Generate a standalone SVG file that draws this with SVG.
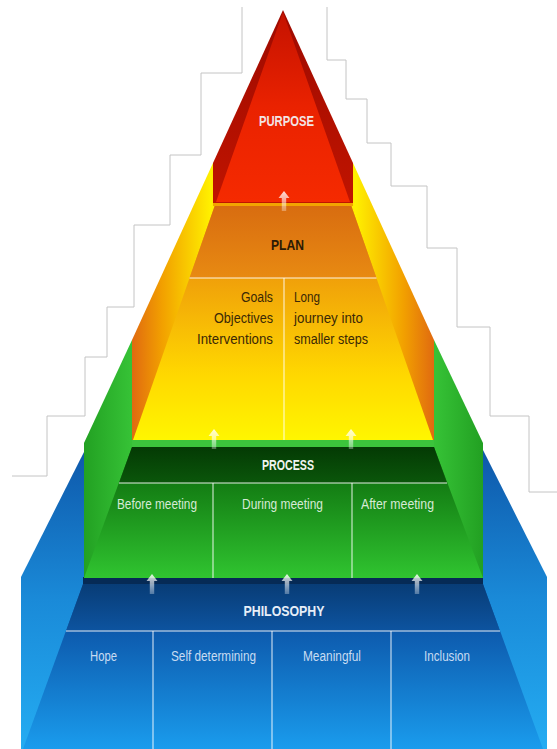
<svg xmlns="http://www.w3.org/2000/svg" width="557" height="749" viewBox="0 0 557 749">
<defs>
<style>
.stair{fill:none;stroke:#c4c4c4;stroke-width:1}
.div{stroke:#ffffff;stroke-opacity:0.6;stroke-width:1.5;fill:none}
.t{font-family:"Liberation Sans",Arial,sans-serif}
.h{font-weight:bold;font-size:15px;text-anchor:middle}
.i{font-size:14px}
.arrow{fill:url(#gArrow)}
</style>
<linearGradient id="gArrow" x1="0" y1="0" x2="0" y2="1">
<stop offset="0" stop-color="#ffffff" stop-opacity="0.85"/>
<stop offset="1" stop-color="#ffffff" stop-opacity="0.3"/>
</linearGradient>
<path id="arr" d="M0,0 L5.5,7 L2.2,7 L2.2,20 L-2.2,20 L-2.2,7 L-5.5,7 Z"/>
<linearGradient id="gRedSide" x1="0" y1="0" x2="0" y2="1">
<stop offset="0" stop-color="#9e0a00"/><stop offset="1" stop-color="#c01400"/>
</linearGradient>
<linearGradient id="gRedFront" x1="0" y1="0" x2="0" y2="1">
<stop offset="0" stop-color="#c41200"/><stop offset="0.5" stop-color="#ea2200"/><stop offset="1" stop-color="#f52a00"/>
</linearGradient>
<linearGradient id="gOrSide" x1="132" y1="0" x2="434" y2="0" gradientUnits="userSpaceOnUse">
<stop offset="0" stop-color="#e06a10"/><stop offset="0.1" stop-color="#f2a000"/><stop offset="0.26" stop-color="#fff000"/><stop offset="0.5" stop-color="#ffb000"/><stop offset="0.74" stop-color="#fff000"/><stop offset="0.9" stop-color="#f2a000"/><stop offset="1" stop-color="#e06a10"/>
</linearGradient>
<linearGradient id="gOrBand" x1="0" y1="0" x2="0" y2="1">
<stop offset="0" stop-color="#d86c10"/><stop offset="1" stop-color="#e88a12"/>
</linearGradient>
<linearGradient id="gOrFront" x1="0" y1="278" x2="0" y2="440" gradientUnits="userSpaceOnUse">
<stop offset="0" stop-color="#f0a00a"/><stop offset="0.6" stop-color="#ffd800"/><stop offset="1" stop-color="#fff600"/>
</linearGradient>
<linearGradient id="gGrSide" x1="83" y1="0" x2="483" y2="0" gradientUnits="userSpaceOnUse">
<stop offset="0" stop-color="#22a022"/><stop offset="0.12" stop-color="#36c236"/><stop offset="0.88" stop-color="#36c236"/><stop offset="1" stop-color="#22a022"/>
</linearGradient>
<linearGradient id="gGrBand" x1="0" y1="0" x2="0" y2="1">
<stop offset="0" stop-color="#043a04"/><stop offset="1" stop-color="#0a560a"/>
</linearGradient>
<linearGradient id="gGrFront" x1="0" y1="483" x2="0" y2="578" gradientUnits="userSpaceOnUse">
<stop offset="0" stop-color="#137c13"/><stop offset="1" stop-color="#30c430"/>
</linearGradient>
<linearGradient id="gBlSide" x1="0" y1="450" x2="0" y2="749" gradientUnits="userSpaceOnUse">
<stop offset="0" stop-color="#0e58aa"/><stop offset="0.5" stop-color="#1a8ad8"/><stop offset="1" stop-color="#24acf2"/>
</linearGradient>
<linearGradient id="gBlBand" x1="0" y1="0" x2="0" y2="1">
<stop offset="0" stop-color="#083c76"/><stop offset="1" stop-color="#0d54a0"/>
</linearGradient>
<linearGradient id="gBlFront" x1="0" y1="631" x2="0" y2="749" gradientUnits="userSpaceOnUse">
<stop offset="0" stop-color="#0d5aad"/><stop offset="1" stop-color="#1a9ced"/>
</linearGradient>
</defs>
<rect width="557" height="749" fill="#ffffff"/>
<g id="background-steps">
<polyline class="stair" points="242,7 242,73 201,73 201,155 170,155 170,225 134,225 134,307 107,307 107,357 85,357 85,416 47,416 47,476 12,476"/>
<polyline class="stair" points="327,7 327,60 346,60 346,99 367,99 367,143 391,143 391,186 427,186 427,248 457,248 457,327 490,327 490,416 529,416 529,492 557,492"/>
</g>
<g id="tier-philosophy">
<polygon points="85,450 21,577 21,749 547,749 547,577 483,450" fill="url(#gBlSide)"/>
<polygon points="83,584 483,584 543,749 23,749" fill="url(#gBlFront)"/>
<rect x="83" y="577" width="400" height="7" fill="#062a55"/>
<polygon points="83,584 483,584 500,631 66,631" fill="url(#gBlBand)"/>
<line class="div" x1="66" y1="631" x2="500" y2="631"/>
<line class="div" x1="153" y1="631" x2="153" y2="749"/>
<line class="div" x1="272" y1="631" x2="272" y2="749"/>
<line class="div" x1="391" y1="631" x2="391" y2="749"/>
<text class="t h" x="284" y="616" fill="#e6eef8" textLength="81" lengthAdjust="spacingAndGlyphs">PHILOSOPHY</text>
<text class="t i" x="103.5" y="661" fill="#c8dcf2" text-anchor="middle" textLength="27" lengthAdjust="spacingAndGlyphs">Hope</text>
<text class="t i" x="213.5" y="661" fill="#c8dcf2" text-anchor="middle" textLength="85" lengthAdjust="spacingAndGlyphs">Self determining</text>
<text class="t i" x="332" y="661" fill="#c8dcf2" text-anchor="middle" textLength="58" lengthAdjust="spacingAndGlyphs">Meaningful</text>
<text class="t i" x="447" y="661" fill="#c8dcf2" text-anchor="middle" textLength="46" lengthAdjust="spacingAndGlyphs">Inclusion</text>
</g>
<g id="tier-process">
<polygon points="132,340 84,443 84,578 483,578 483,443 434,340" fill="url(#gGrSide)"/>
<polygon points="132,447 434,447 483,578 84,578" fill="url(#gGrFront)"/>
<rect x="132" y="440" width="302" height="7" fill="#3cc43c"/>
<polygon points="132,447 434,447 447,483 119,483" fill="url(#gGrBand)"/>
<line class="div" x1="119" y1="483" x2="447" y2="483"/>
<line class="div" x1="213" y1="483" x2="213" y2="578"/>
<line class="div" x1="352" y1="483" x2="352" y2="578"/>
<text class="t h" x="288" y="470" fill="#f0f4f0" textLength="52" lengthAdjust="spacingAndGlyphs">PROCESS</text>
<text class="t i" x="157" y="509" fill="#d6ead6" text-anchor="middle" textLength="80" lengthAdjust="spacingAndGlyphs">Before meeting</text>
<text class="t i" x="282.5" y="509" fill="#d6ead6" text-anchor="middle" textLength="81" lengthAdjust="spacingAndGlyphs">During meeting</text>
<text class="t i" x="397.5" y="509" fill="#d6ead6" text-anchor="middle" textLength="73" lengthAdjust="spacingAndGlyphs">After meeting</text>
</g>
<g id="tier-plan">
<polygon points="213,163 132,340 132,440 434,440 434,340 353,163" fill="url(#gOrSide)"/>
<polygon points="215,205 351,205 433,440 133,440" fill="url(#gOrFront)"/>
<polygon points="215,205 351,205 376.5,278 189.5,278" fill="url(#gOrBand)"/>
<rect x="213" y="202" width="140" height="4" fill="#f2a400"/>
<line class="div" x1="189.5" y1="278" x2="376.5" y2="278"/>
<line class="div" x1="284" y1="278" x2="284" y2="440"/>
<text class="t h" x="287.5" y="250" fill="#2b1a05" textLength="33" lengthAdjust="spacingAndGlyphs">PLAN</text>
<text class="t i" x="273" y="302" fill="#3a2806" text-anchor="end" textLength="32" lengthAdjust="spacingAndGlyphs">Goals</text>
<text class="t i" x="273" y="323" fill="#3a2806" text-anchor="end" textLength="59" lengthAdjust="spacingAndGlyphs">Objectives</text>
<text class="t i" x="273" y="344" fill="#3a2806" text-anchor="end" textLength="76" lengthAdjust="spacingAndGlyphs">Interventions</text>
<text class="t i" x="294" y="302" fill="#3a2806" textLength="26" lengthAdjust="spacingAndGlyphs">Long</text>
<text class="t i" x="294" y="323" fill="#3a2806" textLength="69" lengthAdjust="spacingAndGlyphs">journey into</text>
<text class="t i" x="294" y="344" fill="#3a2806" textLength="74" lengthAdjust="spacingAndGlyphs">smaller steps</text>
</g>
<g id="tier-purpose">
<polygon points="283,10 213,163 213,203 353,203 353,163" fill="url(#gRedSide)"/>
<polygon points="283,12 216,202 350,202" fill="url(#gRedFront)"/>
<text class="t h" x="286.5" y="125.5" fill="#f2e4e4" textLength="55" lengthAdjust="spacingAndGlyphs">PURPOSE</text>
</g>
<g id="connectors">
<use href="#arr" class="arrow" x="284" y="191"/>
<use href="#arr" class="arrow" x="214" y="429"/>
<use href="#arr" class="arrow" x="351" y="429"/>
<use href="#arr" class="arrow" x="152" y="574"/>
<use href="#arr" class="arrow" x="287" y="574"/>
<use href="#arr" class="arrow" x="417" y="574"/>
</g>
</svg>
